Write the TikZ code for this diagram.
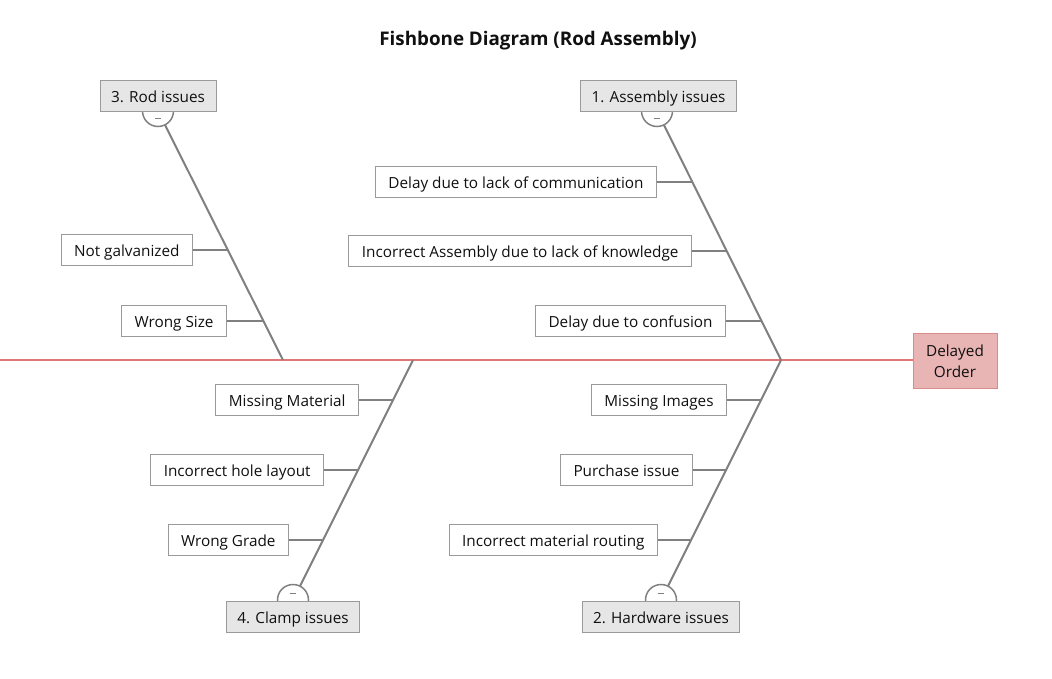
\documentclass[tikz,border=0pt]{standalone}
\usepackage{fontspec}
\setmainfont{Open Sans}
\definecolor{bonegray}{HTML}{808080}
\definecolor{boxgray}{HTML}{9A9A9A}
\definecolor{catfill}{HTML}{E6E6E6}
\definecolor{spinered}{HTML}{E07676}
\definecolor{headfill}{HTML}{E8B4B4}
\definecolor{headdraw}{HTML}{D98C8C}
\definecolor{ink}{HTML}{101010}
\begin{document}
\begin{tikzpicture}[x=1pt,y=-1pt,
  every node/.style={font=\fontsize{15.3}{18.5}\selectfont, text=ink},
  cause/.style={draw=boxgray, fill=white, line width=0.9pt, minimum height=31pt,
    inner xsep=13pt, inner ysep=0pt, text height=16pt, text depth=3pt, anchor=east},
  category/.style={cause, fill=catfill, anchor=center, inner xsep=11pt},
  bone/.style={draw=bonegray, line width=2pt},
  knob/.style={draw=bonegray, line width=1.5pt, fill=white, circle,
    minimum size=31pt, inner sep=0pt},
  minus/.style={draw=bonegray, line width=1pt},
]
\path[use as bounding box] (0,0) rectangle (1052,678);

% title
\node[font=\fontsize{18.8}{22}\selectfont\bfseries] (title) at (538,41) {Fishbone Diagram (Rod Assembly)};

% head of the fish and spine
\node[draw=headdraw, fill=headfill, line width=0.9pt, minimum width=84pt,
  minimum height=55pt, align=center, inner sep=2pt,
  font=\fontsize{15.3}{21}\selectfont] (head) at (955,361) {Delayed\\Order};
\coordinate (tail) at (0,360);
\draw[draw=spinered, line width=2pt] (tail) -- (tail -| head.west);

% junctions on the spine and knob centres
\coordinate (j1) at (781,360);
\coordinate (j3) at (283,360);
\coordinate (j4) at (413,360);
\coordinate (c1) at (657,111);
\coordinate (c2) at (661,600);
\coordinate (c3) at (158,111);
\coordinate (c4) at (293,600);

% bones
\draw[bone] (j1) -- (c1);
\draw[bone] (j1) -- (c2);
\draw[bone] (j3) -- (c3);
\draw[bone] (j4) -- (c4);

% collapse knobs
\foreach \c in {c1,c3} {
  \node[knob] (k\c) at (\c) {};
  \draw[minus] ([shift={(-3,7)}]\c) -- ([shift={(3,7)}]\c);
}
\foreach \c in {c2,c4} {
  \node[knob] (k\c) at (\c) {};
  \draw[minus] ([shift={(-3,-7)}]\c) -- ([shift={(3,-7)}]\c);
}

% category boxes
\node[category] (cat1) at (658.5,95.5) {1. Assembly issues};
\node[category] (cat2) at (661,616.5) {2. Hardware issues};
\node[category] (cat3) at (158,95.5) {3. Rod issues};
\node[category] (cat4) at (293,616.5) {4. Clamp issues};

% points where the cause ticks meet the bones
\coordinate (b11) at (692,182);
\coordinate (b12) at (726,251);
\coordinate (b13) at (762,321);
\coordinate (b21) at (761,400);
\coordinate (b22) at (726,470);
\coordinate (b23) at (691,540);
\coordinate (b31) at (228,250);
\coordinate (b32) at (263,321);
\coordinate (b41) at (393,400);
\coordinate (b42) at (358,470);
\coordinate (b43) at (323,540);

% causes
\node[cause] (a11) at (657,182) {Delay due to lack of communication};
\node[cause] (a12) at (692,251) {Incorrect Assembly due to lack of knowledge};
\node[cause] (a13) at (726,321) {Delay due to confusion};
\node[cause] (a21) at (727,400) {Missing Images};
\node[cause] (a22) at (693,470) {Purchase issue};
\node[cause] (a23) at (658,540) {Incorrect material routing};
\node[cause] (a31) at (193,250) {Not galvanized};
\node[cause] (a32) at (227,321) {Wrong Size};
\node[cause] (a41) at (359,400) {Missing Material};
\node[cause] (a42) at (324,470) {Incorrect hole layout};
\node[cause] (a43) at (289,540) {Wrong Grade};

% ticks
\foreach \n in {11,12,13,21,22,23,31,32,41,42,43}
  \draw[bone] (a\n.east) -- (b\n);
\end{tikzpicture}
\end{document}
